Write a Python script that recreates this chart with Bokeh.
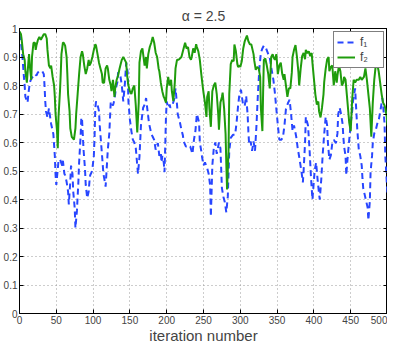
from bokeh.plotting import figure
from bokeh.models import Range1d, FixedTicker, LinearAxis, CustomJSTickFormatter
from bokeh.embed import file_html
from bokeh.resources import INLINE

title_text = "α = 2.5"
x_label = "iteration number"
x_ticks = [0, 50, 100, 150, 200, 250, 300, 350, 400, 450, 500]
y_ticks = [0, 0.1, 0.2, 0.3, 0.4, 0.5, 0.6, 0.7, 0.8, 0.9, 1.0]
series_names = ["f\u2081", "f\u2082"]

f1_iter = [0, 2, 4, 6, 7, 8, 11, 12, 14, 16, 18, 21, 23, 25, 29, 31, 33, 34, 35, 36, 38, 40, 41, 43, 46,
           48, 49, 50, 52, 53, 55, 58, 59, 61, 62, 64, 66, 67, 69, 70, 72, 73, 75, 76, 78, 80, 81, 83, 84, 85,
           87, 89, 90, 92, 94, 95, 96, 98, 99, 101, 102, 103, 104, 106, 108, 109, 112, 114, 116, 117, 120, 122,
           123, 124, 127, 129, 131, 133, 134, 137, 139, 141, 143, 145, 147, 148, 150, 152, 154, 156, 158, 161,
           163, 165, 168, 170, 172, 174, 176, 179, 181, 183, 185, 188, 190, 192, 193, 194, 196, 197, 198, 199,
           200, 202, 204, 205, 208, 210, 212, 214, 215, 218, 220, 222, 223, 226, 228, 230, 232, 235, 237, 239,
           241, 244, 245, 247, 248, 250, 252, 255, 257, 259, 260, 262, 264, 266, 268, 271, 273, 275, 277, 279,
           281, 283, 284, 285, 287, 290, 293, 295, 297, 299, 301, 302, 304, 306, 308, 310, 311, 312, 314, 316,
           318, 320, 322, 324, 326, 328, 330, 332, 335, 338, 340, 342, 345, 347, 349, 351, 353, 356, 358, 360,
           362, 365, 367, 369, 371, 373, 376, 378, 380, 383, 385, 386, 388, 389, 392, 394, 396, 398, 401, 403,
           405, 407, 408, 410, 412, 414, 416, 418, 419, 421, 423, 425, 427, 430, 432, 433, 435, 437, 439, 440,
           441, 443, 444, 446, 448, 450, 452, 453, 456, 459, 461, 463, 465, 466, 467, 469, 471, 473, 474, 476,
           477, 479, 480, 482, 484, 486, 488, 491, 493, 494, 496, 497, 499, 500]
f1_value = [0.98, 0.95, 0.90, 0.83, 0.80, 0.76, 0.74, 0.77, 0.81, 0.824, 0.83, 0.84, 0.835, 0.846, 0.852, 0.85,
            0.84, 0.80, 0.744, 0.71, 0.688, 0.72, 0.70, 0.665, 0.63,
            0.553, 0.485, 0.451, 0.507, 0.536, 0.541, 0.519, 0.536, 0.49, 0.485, 0.462, 0.428, 0.383, 0.462, 0.519,
            0.49, 0.428, 0.37, 0.30, 0.36, 0.462, 0.53, 0.62, 0.688, 0.68,
            0.575, 0.507, 0.451, 0.405, 0.428, 0.462, 0.485, 0.496, 0.507, 0.553, 0.62, 0.722, 0.744, 0.733, 0.71,
            0.66, 0.56, 0.49, 0.462, 0.445, 0.575, 0.631,
            0.688, 0.744, 0.73, 0.75, 0.79, 0.812, 0.846, 0.835, 0.80, 0.744, 0.80, 0.88, 0.846, 0.744, 0.68, 0.64,
            0.61, 0.60, 0.58, 0.49,
            0.55, 0.66, 0.722, 0.733, 0.756, 0.71, 0.667, 0.632, 0.62, 0.609, 0.575, 0.598, 0.553, 0.564, 0.53,
            0.553, 0.53, 0.496, 0.586, 0.688,
            0.744, 0.722, 0.733, 0.722, 0.733, 0.75, 0.79, 0.733, 0.70, 0.67, 0.645, 0.625, 0.605, 0.586, 0.586,
            0.59, 0.586, 0.56, 0.609, 0.64,
            0.70, 0.67, 0.60, 0.57, 0.55, 0.52, 0.53, 0.51, 0.49, 0.45, 0.34, 0.52, 0.58, 0.60, 0.56, 0.60, 0.58,
            0.44, 0.41, 0.39,
            0.355, 0.41, 0.49, 0.57, 0.616, 0.627, 0.627, 0.672, 0.729, 0.774, 0.785, 0.763, 0.729, 0.729, 0.763,
            0.695, 0.638, 0.593, 0.604, 0.571,
            0.604, 0.571, 0.661, 0.774, 0.864, 0.915, 0.93, 0.94, 0.93, 0.91, 0.898, 0.864, 0.819, 0.774, 0.717,
            0.661, 0.61, 0.61, 0.62, 0.66,
            0.717, 0.74, 0.75, 0.70, 0.64, 0.66, 0.62, 0.58, 0.55, 0.50, 0.46, 0.50, 0.60, 0.69, 0.66, 0.58, 0.48,
            0.40, 0.50, 0.53,
            0.47, 0.42, 0.40, 0.47, 0.56, 0.63, 0.69, 0.66, 0.60, 0.54, 0.555, 0.598, 0.609, 0.598, 0.632, 0.699,
            0.722, 0.699, 0.665, 0.62,
            0.586, 0.553, 0.485, 0.553, 0.609, 0.665, 0.71, 0.744, 0.79, 0.643, 0.575, 0.553, 0.519, 0.473, 0.44,
            0.417, 0.394, 0.372, 0.327, 0.394,
            0.496, 0.553, 0.598, 0.632, 0.643, 0.665, 0.677, 0.722, 0.756, 0.733, 0.665, 0.553, 0.462, 0.417]

f2_iter = [0, 2, 3, 5, 7, 8, 10, 12, 13, 14, 16, 17, 19, 21, 22, 23, 25, 27, 29, 31, 33, 35, 37, 38, 40, 42, 43,
           45, 47, 48, 49, 51, 52, 53, 55, 56, 57, 59, 60, 62, 64, 65, 66, 68, 69, 71, 74, 76, 77, 79, 81, 83, 85,
           86, 88, 90, 92, 94, 95, 97, 99, 101, 103, 104, 106, 108, 110, 112, 113, 115, 117, 119, 120, 122, 124,
           125, 127, 129, 130, 132, 134, 136, 137, 139, 141, 143, 145, 146, 148, 150, 152, 154, 156, 158, 160,
           162, 163, 165, 167, 168, 170, 172, 173, 175, 177, 179, 181, 183, 185, 187, 189, 190, 192, 194, 196,
           197, 199, 200, 202, 204, 206, 207, 209, 211, 212, 214, 216, 218, 220, 222, 224, 225, 227, 229, 231,
           233, 234, 236, 238, 240, 241, 243, 245, 247, 249, 250, 252, 254, 255, 257, 258, 260, 261, 262, 264,
           266, 268, 270, 271, 273, 275, 276, 278, 280, 281, 282, 284, 285, 287, 289, 291, 292, 294, 296, 297,
           299, 300, 302, 304, 306, 309, 311, 313, 315, 318, 319, 321, 323, 325, 327, 328, 330, 331, 332, 334,
           336, 338, 340, 342, 344, 345, 347, 349, 351, 353, 355, 357, 359, 360, 362, 364, 366, 368, 370, 371,
           373, 375, 377, 379, 380, 382, 384, 386, 388, 389, 391, 393, 395, 397, 398, 400, 402, 404, 406, 407,
           409, 411, 413, 414, 416, 418, 420, 421, 423, 425, 427, 429, 431, 432, 434, 436, 438, 440, 441, 443,
           445, 447, 448, 450, 452, 454, 456, 458, 461, 463, 465, 468, 470, 472, 474, 476, 478, 480, 482, 484,
           486, 488, 490, 492, 494, 496, 497, 499, 500]
f2_value = [0.99, 0.98, 0.96, 0.91, 0.89, 0.85, 0.81, 0.88, 0.91, 0.87, 0.82, 0.90, 0.95, 0.95, 0.925, 0.94, 0.96,
            0.97, 0.96, 0.97, 0.98, 0.98, 0.965, 0.925, 0.87, 0.86, 0.87,
            0.83, 0.80, 0.76, 0.70, 0.64, 0.58, 0.69, 0.78, 0.84, 0.91, 0.95, 0.95, 0.94, 0.90, 0.84, 0.77, 0.71,
            0.65, 0.62, 0.61, 0.65, 0.70, 0.77, 0.84, 0.90, 0.92,
            0.91, 0.87, 0.84, 0.86, 0.89, 0.87, 0.88, 0.90, 0.925, 0.945, 0.94, 0.91, 0.88, 0.86, 0.84, 0.81, 0.81,
            0.86, 0.87, 0.86, 0.82, 0.80,
            0.78, 0.82, 0.76, 0.79, 0.82, 0.835, 0.86, 0.87, 0.89, 0.90, 0.89, 0.88, 0.84, 0.80, 0.78, 0.77, 0.79,
            0.80, 0.73, 0.635,
            0.74, 0.88, 0.92, 0.93, 0.91, 0.87, 0.90, 0.86, 0.91, 0.935, 0.95, 0.97, 0.95, 0.915, 0.90, 0.86, 0.85,
            0.81, 0.78, 0.76,
            0.755, 0.74, 0.79, 0.83, 0.80, 0.82, 0.78, 0.745, 0.81, 0.86, 0.89, 0.89, 0.895, 0.90, 0.92, 0.94, 0.95,
            0.93, 0.935, 0.90,
            0.89, 0.90, 0.93, 0.915, 0.945, 0.935, 0.92, 0.89, 0.84, 0.795, 0.775, 0.74, 0.69, 0.76, 0.78, 0.72,
            0.655, 0.72, 0.78, 0.80,
            0.81, 0.77, 0.70, 0.645, 0.74, 0.76, 0.775, 0.72, 0.63, 0.525, 0.435, 0.57, 0.77, 0.875, 0.89, 0.885,
            0.944, 0.92, 0.875, 0.865,
            0.87, 0.865, 0.885, 0.93, 0.955, 0.975, 0.955, 0.945, 0.944, 0.91, 0.887, 0.855, 0.865, 0.86, 0.83, 0.72,
            0.64, 0.775, 0.89, 0.895,
            0.87, 0.84, 0.79, 0.90, 0.91, 0.90, 0.89, 0.91, 0.84, 0.87, 0.88, 0.84, 0.82, 0.84, 0.80, 0.76, 0.79,
            0.79, 0.846, 0.90,
            0.925, 0.942, 0.90, 0.846, 0.80, 0.858, 0.903, 0.914, 0.892, 0.925, 0.914, 0.92, 0.903, 0.914, 0.88,
            0.824, 0.768, 0.733, 0.744, 0.71,
            0.688, 0.722, 0.768, 0.812, 0.858, 0.892, 0.90, 0.85, 0.865, 0.87, 0.80, 0.85, 0.81, 0.835, 0.87, 0.85,
            0.80, 0.81, 0.83, 0.82,
            0.76, 0.70, 0.67, 0.64, 0.75, 0.82, 0.81, 0.82, 0.82, 0.83, 0.82, 0.83, 0.86, 0.82, 0.77, 0.72, 0.62,
            0.74, 0.82, 0.87,
            0.875, 0.85, 0.81, 0.77, 0.74, 0.73, 0.72, 0.69, 0.66]

FONT = "Liberation Sans"

p = figure(frame_width=368, frame_height=285, output_backend="svg", toolbar_location=None,
           x_range=Range1d(0, 500), y_range=Range1d(0, 1),
           min_border_left=0, min_border_right=0, min_border_top=0, min_border_bottom=0,
           background_fill_color="white", border_fill_color="white")

p.title.text = title_text
p.title.align = "center"
p.title.text_font = FONT
p.title.text_font_size = "14px"
p.title.text_font_style = "normal"
p.title.standoff = 10

p.line(f1_iter, f1_value, line_color="#2846ff", line_width=2, line_dash="6 4", legend_label=series_names[0])
p.line(f2_iter, f2_value, line_color="#1f9c0c", line_width=2, legend_label=series_names[1])

p.xaxis.ticker = FixedTicker(ticks=x_ticks)
p.yaxis.ticker = FixedTicker(ticks=y_ticks)
p.yaxis.formatter = CustomJSTickFormatter(code="return String(Math.round(tick * 10) / 10);")
p.xaxis.axis_label = x_label
for ax in (p.xaxis[0], p.yaxis[0]):
    ax.major_label_text_font = FONT
    ax.major_label_text_font_size = "10px"
    ax.major_tick_in = 4
    ax.major_tick_out = 0
    ax.minor_tick_line_color = None
    ax.axis_line_color = "black"
    ax.major_tick_line_color = "black"
    ax.major_label_standoff = 2
p.xaxis.axis_label_text_font = FONT
p.xaxis.axis_label_text_font_size = "15px"
p.xaxis.axis_label_text_font_style = "normal"
p.xaxis.axis_label_standoff = 0

blank = CustomJSTickFormatter(code="return '';")
top_axis = LinearAxis(ticker=FixedTicker(ticks=x_ticks), formatter=blank, major_tick_in=4, major_tick_out=0,
                      minor_tick_line_color=None, major_label_standoff=0, axis_line_color="black")
right_axis = LinearAxis(ticker=FixedTicker(ticks=y_ticks), formatter=blank, major_tick_in=4, major_tick_out=0,
                        minor_tick_line_color=None, major_label_standoff=0, axis_line_color="black")
p.add_layout(top_axis, "above")
p.add_layout(right_axis, "right")

p.xgrid.ticker = FixedTicker(ticks=x_ticks)
p.ygrid.ticker = FixedTicker(ticks=y_ticks)
p.grid.grid_line_color = "#9a9a9a"
p.grid.grid_line_dash = "1 3"
p.grid.grid_line_width = 1

p.outline_line_color = "black"
p.outline_line_width = 1

lg = p.legend[0]
lg.location = "top_right"
lg.margin = 3
lg.padding = 3
lg.spacing = 1
lg.glyph_width = 18
lg.glyph_height = 12
lg.label_standoff = 5
lg.label_text_font = FONT
lg.label_text_font_size = "12px"
lg.border_line_color = "black"
lg.border_line_width = 1
lg.background_fill_color = "white"
lg.background_fill_alpha = 1

open("out.html", "w").write(file_html(p, INLINE))
